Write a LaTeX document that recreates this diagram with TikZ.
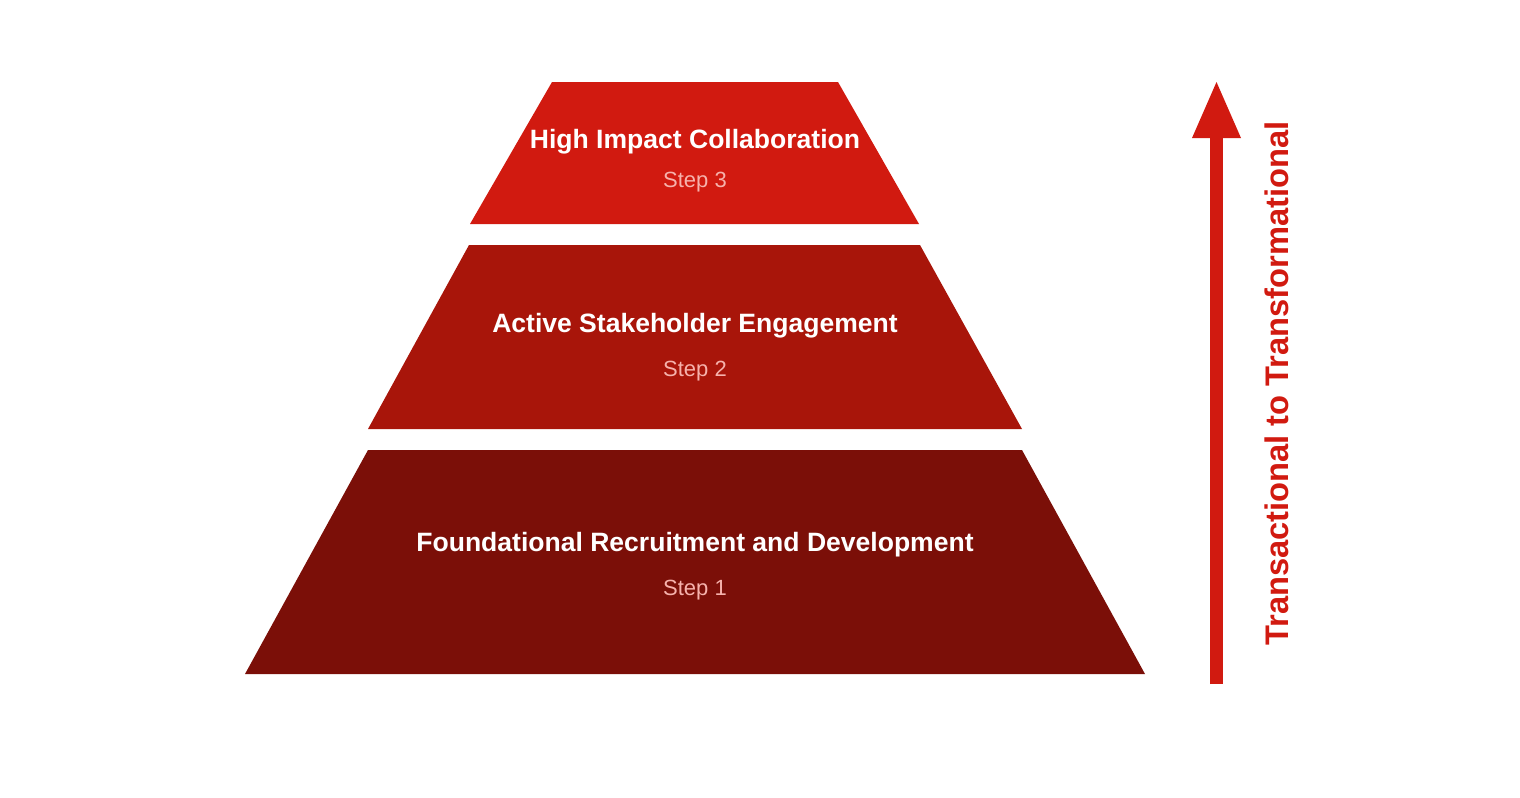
\documentclass[tikz,border=0pt]{standalone}
\usepackage{fontspec}
\setmainfont{Liberation Sans}
\usepackage{xcolor}

\begin{document}
\begin{tikzpicture}[x=0.75pt,y=0.75pt,yscale=-1,xscale=1]
\useasboundingbox (0,0) rectangle (1520,797);

%Shape: Trapezoid [id:step3]
\fill [color={rgb, 255:red, 209; green, 26; blue, 16 }] (552,82) -- (838,82) -- (919,224) -- (470,224) -- cycle ;
%Shape: Trapezoid [id:step2]
\fill [color={rgb, 255:red, 168; green, 21; blue, 10 }] (469,245) -- (920,245) -- (1022,429) -- (368,429) -- cycle ;
%Shape: Trapezoid [id:step1]
\fill [color={rgb, 255:red, 123; green, 15; blue, 8 }] (368,450) -- (1022,450) -- (1145,674) -- (245,674) -- cycle ;

%Straight Lines [id:arrowshaft]
\coordinate (arrowfoot) at (1216.5,684) ;
\coordinate (arrowtip) at (1216.5,82) ;
\draw [color={rgb, 255:red, 209; green, 26; blue, 16 }  ,draw opacity=1 ][line width=9.5pt]   (arrowfoot) -- (1216.5,136) ;
\fill [color={rgb, 255:red, 209; green, 26; blue, 16 }] (arrowtip) -- (1241,138) -- (1192,138) -- cycle ;

% Text Node
\draw (695,148) node [anchor=base][inner sep=0.75pt]  [color=white ,opacity=1 ,font=\fontsize{19.9}{23}\selectfont\bfseries]  (title3) {High Impact Collaboration};
% Text Node
\draw (695,187) node [anchor=base][inner sep=0.75pt]  [color={rgb, 255:red, 246; green, 178; blue, 172 }  ,opacity=1 ,font=\fontsize{16.5}{20}\selectfont]  (sub3) {Step 3};
% Text Node
\draw (695,332) node [anchor=base][inner sep=0.75pt]  [color=white ,opacity=1 ,font=\fontsize{19.9}{23}\selectfont\bfseries]  (title2) {Active Stakeholder Engagement};
% Text Node
\draw (695,376) node [anchor=base][inner sep=0.75pt]  [color={rgb, 255:red, 246; green, 178; blue, 172 }  ,opacity=1 ,font=\fontsize{16.5}{20}\selectfont]  (sub2) {Step 2};
% Text Node
\draw (695,551) node [anchor=base][inner sep=0.75pt]  [color=white ,opacity=1 ,font=\fontsize{19.9}{23}\selectfont\bfseries]  (title1) {Foundational Recruitment and Development};
% Text Node
\draw (695,595) node [anchor=base][inner sep=0.75pt]  [color={rgb, 255:red, 246; green, 178; blue, 172 }  ,opacity=1 ,font=\fontsize{16.5}{20}\selectfont]  (sub1) {Step 1};
% Text Node
\draw (1288,383.5) node [anchor=base,rotate=90][inner sep=0.75pt]  [color={rgb, 255:red, 209; green, 26; blue, 16 }  ,opacity=1 ,font=\fontsize{24.5}{28}\selectfont\bfseries]  (axislabel) {Transactional to Transformational};
\end{tikzpicture}
\end{document}
